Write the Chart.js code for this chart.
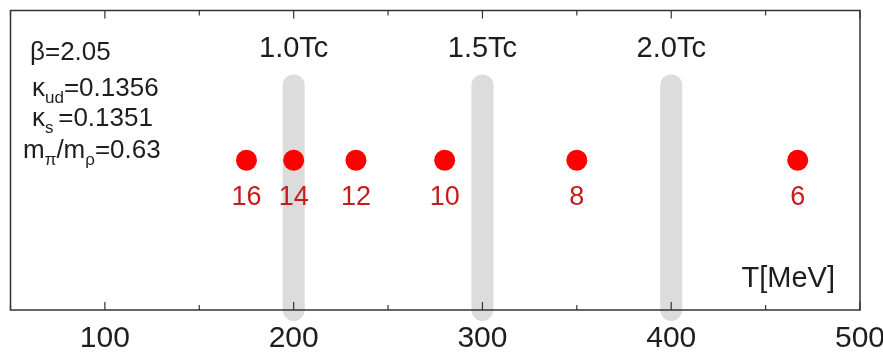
<!DOCTYPE html>
<html>
<head>
<meta charset="utf-8">
<script src="https://cdn.jsdelivr.net/npm/chart.js@4.4.1/dist/chart.umd.min.js"></script>
<style>
  html, body { margin: 0; padding: 0; background: #fff; }
  #wrap { width: 883px; height: 352px; }
</style>
</head>
<body>
<div id="wrap"><canvas id="tempChart"></canvas></div>
<script>
// temperatures of the simulated lattices [MeV] and their temporal extent N_t
const tempValues = [175, 200, 233, 280, 350, 467];
const ntLabels = ['16', '14', '12', '10', '8', '6'];

// reference temperatures in units of Tc
const tcTemps = [200, 300, 400];
const tcLabels = ['1.0Tc', '1.5Tc', '2.0Tc'];

// x axis ticks: every 50 MeV, labelled every 100
const xTicks = [50, 100, 150, 200, 250, 300, 350, 400, 450, 500];
const xTickLabels = ['', '100', '', '200', '', '300', '', '400', '', '500'];
const xTitle = 'T[MeV]';

// simulation parameters (main text / subscript pieces)
const paramLines = [
    [['β=2.05']],
    [['κ'], ['ud', 'sub'], ['=0.1356']],
    [['κ'], ['s ', 'sub'], ['=0.1351']],
    [['m'], ['π', 'sub'], ['/m'], ['ρ', 'sub'], ['=0.63']]
];

// vertical placement on the hidden 0..1 y scale
const POINT_Y = 0.5;
const BAND_LOW = 0, BAND_HIGH = 0.75;
const FONT = '"Liberation Sans", Arial, Helvetica, sans-serif';
const INK = '#1e1e1e';

const bandSets = tcTemps.map(t => ({
    type: 'line',
    data: [{ x: t, y: BAND_LOW }, { x: t, y: BAND_HIGH }],
    borderColor: '#dcdcdc',
    borderWidth: 22,
    borderCapStyle: 'round',
    pointRadius: 0,
    clip: false,
    order: 2
}));

const pointSet = {
    type: 'scatter',
    data: tempValues.map(t => ({ x: t, y: POINT_Y })),
    backgroundColor: '#ff0000',
    borderWidth: 0,
    pointRadius: 10.5,
    order: 1
};

// frame, inward ticks and all annotation text
const decorPlugin = {
    id: 'decor',
    afterDraw(chart) {
        const { ctx, chartArea: a, scales } = chart;
        const xs = scales.x, ys = scales.y;
        ctx.save();

        // box round the plot
        ctx.strokeStyle = '#333';
        ctx.lineWidth = 1.5;
        ctx.strokeRect(a.left, a.top, a.right - a.left, a.bottom - a.top);

        // inward tick marks on bottom and top edges
        ctx.lineWidth = 1.2;
        xTicks.forEach((v, i) => {
            const px = xs.getPixelForValue(v);
            const len = xTickLabels[i] ? 8 : 5;
            ctx.beginPath();
            ctx.moveTo(px, a.bottom);
            ctx.lineTo(px, a.bottom - len);
            ctx.moveTo(px, a.top);
            ctx.lineTo(px, a.top + len);
            ctx.stroke();
        });

        ctx.textAlign = 'center';
        ctx.textBaseline = 'middle';

        // Tc labels above the bands
        ctx.fillStyle = INK;
        ctx.font = '29px ' + FONT;
        tcTemps.forEach((t, i) => {
            ctx.fillText(tcLabels[i], xs.getPixelForValue(t), ys.getPixelForValue(0.87));
        });

        // N_t under each point
        ctx.fillStyle = '#c81c1c';
        ctx.font = '27px ' + FONT;
        tempValues.forEach((t, i) => {
            ctx.fillText(ntLabels[i], xs.getPixelForValue(t), ys.getPixelForValue(0.376));
        });

        // axis title inside the frame
        ctx.fillStyle = INK;
        ctx.font = '29px ' + FONT;
        ctx.textAlign = 'right';
        ctx.fillText(xTitle, a.right - 25, a.bottom - 31);

        // parameter block
        ctx.textAlign = 'left';
        ctx.textBaseline = 'alphabetic';
        const starts = [30, 32, 32, 23];
        const baseY = [60, 96, 126, 158];
        paramLines.forEach((line, li) => {
            let x = starts[li];
            line.forEach(([txt, kind]) => {
                const sub = kind === 'sub';
                ctx.font = (sub ? '17px ' : '26px ') + FONT;
                ctx.fillText(txt, x, baseY[li] + (sub ? 7 : 0));
                x += ctx.measureText(txt).width;
            });
        });

        ctx.restore();
    }
};

new Chart(document.getElementById('tempChart'), {
    data: { datasets: [...bandSets, pointSet] },
    options: {
        responsive: true,
        maintainAspectRatio: false,
        animation: false,
        layout: { padding: { left: 10, right: 23, top: 8, bottom: -16 } },
        plugins: { legend: { display: false }, tooltip: { enabled: false } },
        scales: {
            x: {
                type: 'linear',
                min: 50,
                max: 500,
                afterBuildTicks: scale => { scale.ticks = xTicks.map(v => ({ value: v })); },
                // let the end label run into the page margin
                afterFit: scale => { scale.paddingLeft = 0; scale.paddingRight = 0; },
                ticks: {
                    autoSkip: false,
                    maxRotation: 0,
                    padding: 14,
                    color: INK,
                    font: { family: FONT, size: 30, lineHeight: 1.0 },
                    callback: v => xTickLabels[xTicks.indexOf(v)] || ''
                },
                grid: { display: false, drawTicks: false },
                border: { display: false }
            },
            y: {
                display: false,
                min: 0,
                max: 1
            }
        }
    },
    plugins: [decorPlugin]
});
</script>
</body>
</html>
